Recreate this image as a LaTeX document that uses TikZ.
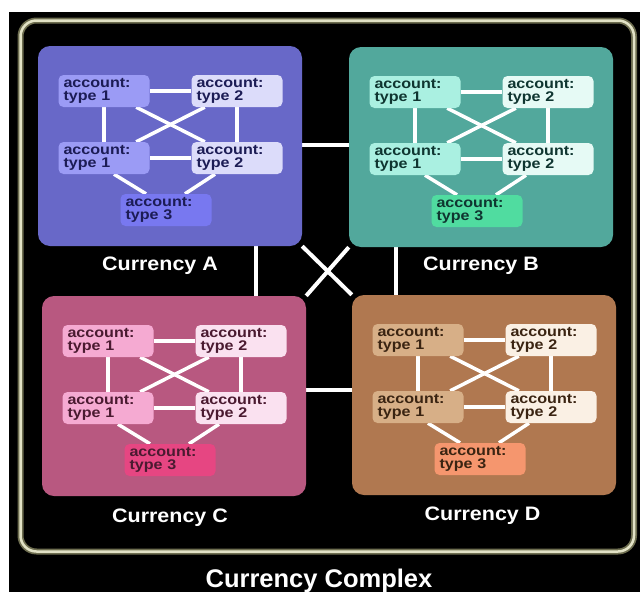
\documentclass[tikz,border=0pt]{standalone}
\usepackage{fontspec}
\setmainfont{Liberation Sans}
\newfontfamily\acctfont[FakeStretch=1.15]{Liberation Sans}
\newfontfamily\capfont[FakeStretch=1.1]{Liberation Sans}
\usetikzlibrary{calc}

\pgfdeclarelayer{back}
\pgfdeclarelayer{panels}
\pgfdeclarelayer{links}
\pgfsetlayers{back,panels,links,main}

% panel colours
\definecolor{panA}{HTML}{6868C8}
\definecolor{panB}{HTML}{52A89C}
\definecolor{panC}{HTML}{B85880}
\definecolor{panD}{HTML}{B07850}
% account colours: type 1, type 2, type 3, text
\definecolor{aOne}{HTML}{9B9BF5}\definecolor{aTwo}{HTML}{DCDCFA}\definecolor{aThree}{HTML}{7878F0}\definecolor{aText}{HTML}{1C1C55}
\definecolor{bOne}{HTML}{AAF0E1}\definecolor{bTwo}{HTML}{E6FAF5}\definecolor{bThree}{HTML}{50DCA0}\definecolor{bText}{HTML}{0F3530}
\definecolor{cOne}{HTML}{F5AAD2}\definecolor{cTwo}{HTML}{FAE1F0}\definecolor{cThree}{HTML}{E64682}\definecolor{cText}{HTML}{4A1A30}
\definecolor{dOne}{HTML}{D7AF87}\definecolor{dTwo}{HTML}{FAF0E4}\definecolor{dThree}{HTML}{F5966E}\definecolor{dText}{HTML}{3A2412}
\definecolor{frameDark}{HTML}{6E6E50}
\definecolor{frameLight}{HTML}{E2E2C6}

\tikzset{
  panelbox/.style={rectangle, rounded corners=12pt, minimum width=264pt,
    minimum height=200pt, inner sep=0pt},
  acct/.style={rectangle, rounded corners=5pt, minimum width=91pt,
    minimum height=32pt, text width=81pt, align=left, inner xsep=5pt,
    inner ysep=1pt, font=\acctfont\bfseries\fontsize{14}{12.5}\selectfont},
  link/.style={draw=white, line width=4pt},
  tie/.style={draw=white, line width=3.5pt},
  caption/.style={text=white, anchor=base,
    font=\capfont\bfseries\fontsize{19.5}{20}\selectfont},
}

% #1 name, #2 origin, #3 panel fill, #4 type 1, #5 type 2, #6 type 3, #7 text
\newcommand\currencypanel[7]{%
  \begin{scope}[shift={#2}]
    \begin{pgfonlayer}{panels}
      \node[panelbox, fill=#3] (#1) at (132,100) {};
    \end{pgfonlayer}
    \node[acct, fill=#4, text=#7] (#1-a) at (66,45)   {account:\\type 1};
    \node[acct, fill=#5, text=#7] (#1-b) at (199,45)  {account:\\type 2};
    \node[acct, fill=#4, text=#7] (#1-c) at (66,112)  {account:\\type 1};
    \node[acct, fill=#5, text=#7] (#1-d) at (199,112) {account:\\type 2};
    \node[acct, fill=#6, text=#7] (#1-e) at (128,164) {account:\\type 3};
    \begin{pgfonlayer}{links}
      \draw[tie] (#1-a) -- (#1-b);
      \draw[tie] (#1-c) -- (#1-d);
      \draw[tie] (#1-a) -- (#1-c);
      \draw[tie] (#1-b) -- (#1-d);
      \draw[tie] (#1-a) -- (#1-d);
      \draw[tie] (#1-b) -- (#1-c);
      \draw[tie] ([xshift=10pt]#1-c.south) -- ([xshift=-20pt]#1-e.north);
      \draw[tie] ([xshift=-22pt]#1-d.south) -- ([xshift=19pt]#1-e.north);
    \end{pgfonlayer}
  \end{scope}}

\begin{document}
\begin{tikzpicture}[x=1pt, y=-1pt]
  \useasboundingbox (0,0) rectangle (640,592);

  \begin{pgfonlayer}{back}
    \fill[white] (0,0) rectangle (640,592);
    \fill[black] (9,12) rectangle (640,592);
    \draw[frameDark, line width=6pt, rounded corners=16pt] (20.5,20.5) rectangle (634,551.5);
    \draw[frameLight, line width=2.5pt, rounded corners=16pt] (20.5,20.5) rectangle (634,551.5);
  \end{pgfonlayer}

  \currencypanel{A}{(38,46)}{panA}{aOne}{aTwo}{aThree}{aText}
  \currencypanel{B}{(349,47)}{panB}{bOne}{bTwo}{bThree}{bText}
  \currencypanel{C}{(42,296)}{panC}{cOne}{cTwo}{cThree}{cText}
  \currencypanel{D}{(352,295)}{panD}{dOne}{dTwo}{dThree}{dText}

  % links between the currencies
  \begin{pgfonlayer}{back}
    \draw[link] ([yshift=1pt]A.east) -- ([yshift=1pt]A.east -| B.west);
    \draw[link] ([xshift=86pt]A.south) -- ([xshift=86pt]A.south |- C.north);
    \draw[link] ([xshift=-85pt]B.south) -- ([xshift=-85pt]B.south |- D.north);
    \draw[link] ([yshift=6pt]C.east) -- ([yshift=6pt]C.east -| D.west);
    \draw[link] (A.south east) -- (D.north west);
    \draw[link] (B.south west) -- (C.north east);
  \end{pgfonlayer}

  \node[caption] (capA) at (160,270) {Currency A};
  \node[caption] (capB) at (481,270) {Currency B};
  \node[caption] (capC) at (170,522) {Currency C};
  \node[caption] (capD) at (482.5,520) {Currency D};
  \node[text=white, anchor=base, font=\bfseries\fontsize{25.5}{26}\selectfont]
    (complex) at (319,587) {Currency Complex};
\end{tikzpicture}
\end{document}
